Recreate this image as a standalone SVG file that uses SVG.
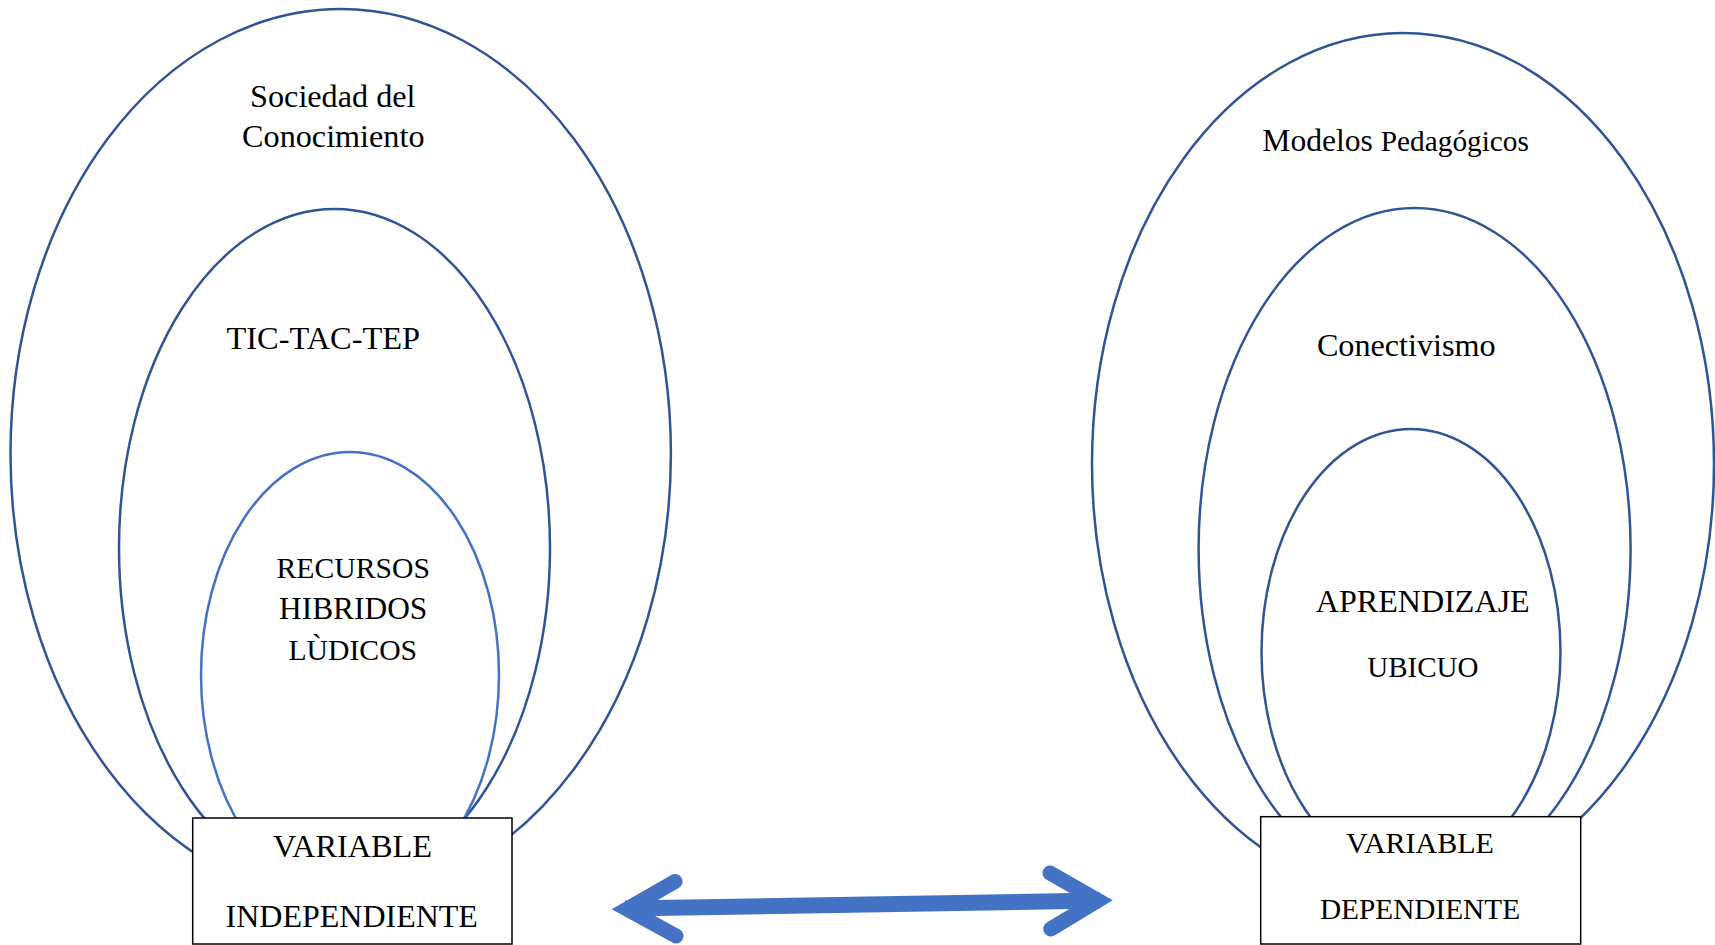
<svg xmlns="http://www.w3.org/2000/svg" width="1715" height="945" viewBox="0 0 1715 945">
  <style>
    .ring { fill: none; stroke: #2F5597; stroke-width: 2.5; }
    .ring-light { fill: none; stroke: #4472C4; stroke-width: 2.5; }
    .box { fill: #FFFFFF; stroke: #000000; stroke-width: 1.5; }
    .t { font-family: "Liberation Serif", "Times New Roman", serif; fill: #000000; text-anchor: middle; }
    .arrow { fill: none; stroke: #4472C4; }
  </style>
  <rect x="0" y="0" width="1715" height="945" fill="#FFFFFF"/>

  <g id="left-outer">
    <ellipse class="ring" cx="340.7" cy="454" rx="330.2" ry="445"/>
    <text class="t" x="332.8" y="106.7" font-size="32.2">Sociedad del</text>
    <text class="t" x="333.3" y="147.3" font-size="32.2">Conocimiento</text>
  </g>
  <g id="left-middle">
    <ellipse class="ring" cx="334.5" cy="548" rx="215.5" ry="339"/>
    <text class="t" x="323.3" y="349.3" font-size="32.4">TIC-TAC-TEP</text>
  </g>
  <g id="left-inner">
    <ellipse class="ring-light" cx="350" cy="675" rx="149" ry="223"/>
    <text class="t" x="353.3" y="578.3" font-size="29.7">RECURSOS</text>
    <text class="t" x="353.2" y="619.3" font-size="31.4">HIBRIDOS</text>
    <text class="t" x="352.8" y="660" font-size="29.7">LÙDICOS</text>
  </g>
  <g id="left-box">
    <rect class="box" x="192.7" y="818" width="319.3" height="126"/>
    <text class="t" x="352.5" y="856.7" font-size="32.3">VARIABLE</text>
    <text class="t" x="351.7" y="926.7" font-size="32">INDEPENDIENTE</text>
  </g>

  <g id="right-outer">
    <ellipse class="ring" cx="1403" cy="464" rx="311" ry="431"/>
    <text x="1262.3" y="150.7" font-family="Liberation Serif, Times New Roman, serif" fill="#000000"><tspan font-size="31.6">Modelos </tspan><tspan font-size="29.3">Pedagógicos</tspan></text>
  </g>
  <g id="right-middle">
    <ellipse class="ring" cx="1414.6" cy="549" rx="216" ry="341"/>
    <text class="t" x="1406.3" y="356" font-size="32.2">Conectivismo</text>
  </g>
  <g id="right-inner">
    <ellipse class="ring" cx="1411" cy="652" rx="149.5" ry="223"/>
    <text class="t" x="1422.8" y="611.7" font-size="32.1">APRENDIZAJE</text>
    <text class="t" x="1422.8" y="677.3" font-size="29">UBICUO</text>
  </g>
  <g id="right-box">
    <rect class="box" x="1260.7" y="816.7" width="320" height="127.3"/>
    <text class="t" x="1420" y="853" font-size="30">VARIABLE</text>
    <text class="t" x="1420" y="919" font-size="29.3">DEPENDIENTE</text>
  </g>

  <g id="connectors">
    <line class="arrow" x1="625" y1="908.5" x2="1100" y2="900.5" stroke-width="16"/>
    <polyline class="arrow" points="675,881.5 627,909 676,936" stroke-width="15" stroke-linecap="round" stroke-linejoin="miter"/>
    <polyline class="arrow" points="1050,873 1098,900.5 1050.7,929" stroke-width="15" stroke-linecap="round" stroke-linejoin="miter"/>
  </g>
</svg>
